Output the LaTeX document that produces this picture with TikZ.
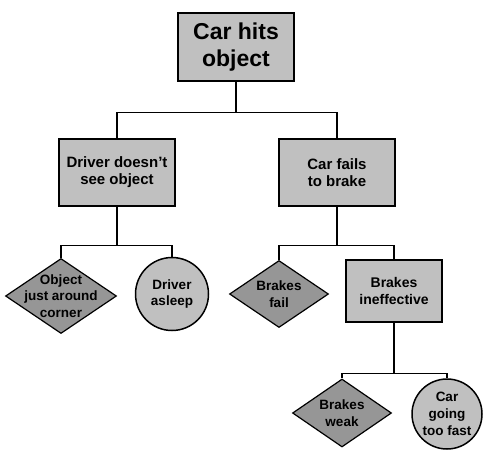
\documentclass[tikz,border=0pt]{standalone}
\usepackage{fontspec}
\setmainfont{Liberation Sans}
\usetikzlibrary{shapes.geometric}
\definecolor{boxgray}{RGB}{192,192,192}
\definecolor{diagray}{RGB}{150,150,150}

\begin{document}
\begin{tikzpicture}[x=1pt,y=-1pt,
  cause/.style={draw=black,line width=1.2pt,fill=boxgray,align=center,inner sep=0pt,font=\bfseries\fontsize{15}{17}\selectfont},
  event/.style={diamond,draw=black,line width=1.2pt,fill=diagray,inner sep=0pt},
  cond/.style={circle,draw=black,line width=1.5pt,fill=boxgray,inner sep=0pt},
  txt/.style={align=center,inner sep=0pt,font=\bfseries\fontsize{13.5}{16.7}\selectfont},
  link/.style={line width=1.5pt}]
\useasboundingbox (0,0) rectangle (497,466);
\node[cause,font=\bfseries\fontsize{23}{27}\selectfont,minimum width=116pt,minimum height=68pt] (hits) at (236,47) {Car hits\\object};
\node[cause,minimum width=116pt,minimum height=67pt] (see) at (117,172.5) {Driver doesn't\\see object};
\node[cause,minimum width=116pt,minimum height=67pt] (brake) at (337,172.5) {Car fails\\to brake};
\node[event,minimum width=111pt,minimum height=75pt,label={[txt]center:{Object\\just around\\corner}}] (corner) at (61,296) {};
\node[cond,minimum size=73pt,label={[txt]center:{Driver\\asleep}}] (asleep) at (172,294) {};
\node[event,minimum width=99pt,minimum height=67pt,label={[txt]center:{Brakes\\fail}}] (fail) at (279,294) {};
\node[cause,font=\bfseries\fontsize{14}{17}\selectfont,minimum width=96pt,minimum height=62pt] (ineff) at (394,291) {Brakes\\ineffective};
\node[event,minimum width=99pt,minimum height=68pt,label={[txt]center:{Brakes\\weak}}] (weak) at (342,413) {};
\node[cond,minimum size=70pt,label={[txt]center:{Car\\going\\too fast}}] (fast) at (447,414) {};

\draw[link] (hits.south) -- ++(0,31) -| (see.north);
\draw[link] (hits.south) -- ++(0,31) -| (brake.north);
\draw[link] (see.south) -- ++(0,39) -| (corner.north);
\draw[link] (see.south) -- ++(0,39) -| (asleep.north);
\draw[link] (brake.south) -- ++(0,39) -| (fail.north);
\draw[link] (brake.south) -- ++(0,39) -| (ineff.north);
\draw[link] (ineff.south) -- ++(0,51) -| (weak.north);
\draw[link] (ineff.south) -- ++(0,51) -| (fast.north);
\end{tikzpicture}
\end{document}
